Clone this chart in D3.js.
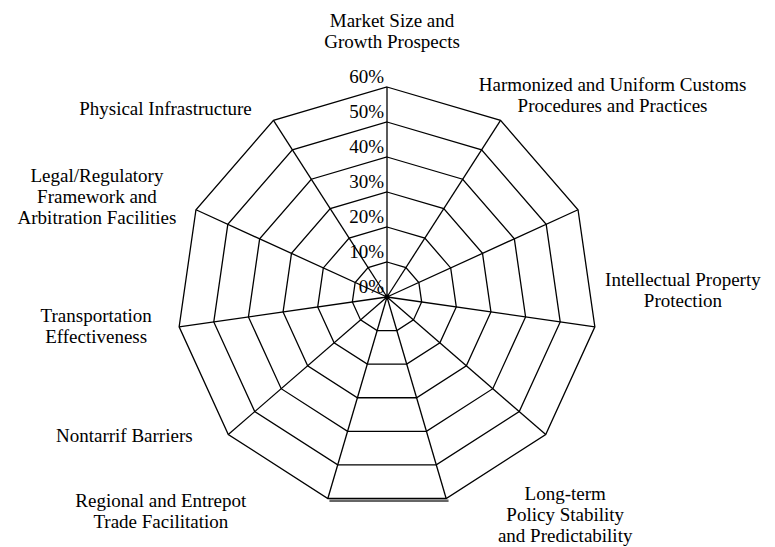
<!DOCTYPE html>
<html>
<head>
<meta charset="utf-8">
<script src="https://cdn.jsdelivr.net/npm/d3@7"></script>
<style>
  body { margin: 0; background: #fff; }
  text { font-family: "Liberation Serif", "DejaVu Serif", serif; fill: #000; }
</style>
</head>
<body>
<div id="chart"></div>
<script>
// axis labels, one entry per spoke (two spokes carry no label in the original)
var categories = [
	["Market Size and", "Growth Prospects"],
	["Harmonized and Uniform Customs", "Procedures and Practices"],
	[],
	["Intellectual Property", "Protection"],
	[],
	["Long-term", "Policy Stability", "and Predictability"],
	["Regional and Entrepot", "Trade Facilitation"],
	["Nontarrif Barriers"],
	["Transportation", "Effectiveness"],
	["Legal/Regulatory", "Framework and", "Arbitration Facilities"],
	["Physical Infrastructure"]
];
var tickValues = [0, 10, 20, 30, 40, 50, 60];
var tickLabels = ["0%", "10%", "20%", "30%", "40%", "50%", "60%"];
// only segment of the series that shows up (grey line under the bottom edge)
var seriesValues = [null, null, null, null, null, 60.4, 60.4, null, null, null, null];

// label placement, offset from the outer vertex of each spoke
var labelNudge = [[5,-60],[112,-29],[0,0],[88,-41],[0,0],[119,2],[-167,9],[-104,7],[-83,-5],[-99,-28],[-108,-5]];

var g = {
	width: 775,
	height: 547,
	cx: 387,
	cy: 297,
	radius: 210,
	lineH: 21
};

var svg = d3.select("#chart").append("svg")
	.attr("width", g.width)
	.attr("height", g.height);

var chart = svg.append("g")
	.attr("transform", "translate(" + g.cx + "," + g.cy + ")");

var n = categories.length;
var r = d3.scaleLinear().domain([0, 60]).range([0, g.radius]);
var angle = d3.scaleLinear().domain([0, n]).range([0, 2 * Math.PI]);

function px(i, v) { return r(v) * Math.sin(angle(i)); }
function py(i, v) { return -r(v) * Math.cos(angle(i)); }

var ring = d3.lineRadial()
	.angle(function(d, i) { return angle(i); })
	.radius(function(d) { return r(d); })
	.curve(d3.curveLinearClosed);

// rings
chart.selectAll(".ring").data(tickValues.slice(1))
	.enter().append("path")
	.attr("class", "ring")
	.attr("d", function(v) { return ring(d3.range(n).map(function() { return v; })); })
	.attr("fill", "none")
	.attr("stroke", "#000")
	.attr("stroke-width", 1.3);

// spokes
chart.selectAll(".spoke").data(d3.range(n))
	.enter().append("line")
	.attr("class", "spoke")
	.attr("x1", 0).attr("y1", 0)
	.attr("x2", function(i) { return px(i, 60); })
	.attr("y2", function(i) { return py(i, 60); })
	.attr("stroke", "#000")
	.attr("stroke-width", 1.3);

chart.append("circle").attr("r", 2.5).attr("fill", "#000");

// series
var seriesLine = d3.lineRadial()
	.defined(function(d) { return d != null; })
	.angle(function(d, i) { return angle(i); })
	.radius(function(d) { return r(d); });

chart.append("path")
	.attr("d", seriesLine(seriesValues))
	.attr("transform", "translate(2,1)")
	.attr("fill", "none")
	.attr("stroke", "#666")
	.attr("stroke-width", 2.5);

// tick labels
chart.selectAll(".tick").data(tickValues)
	.enter().append("text")
	.attr("class", "tick")
	.attr("x", -3)
	.attr("y", function(v) { return -r(v) - 4; })
	.attr("text-anchor", "end")
	.style("font-size", "19px")
	.text(function(v, i) { return tickLabels[i]; });

// category labels
var labels = chart.selectAll(".lab").data(categories)
	.enter().append("text")
	.attr("class", "lab")
	.attr("text-anchor", "middle")
	.style("font-size", "19px")
	.attr("transform", function(d, i) {
		return "translate(" + (px(i, 60) + labelNudge[i][0]) + "," + (py(i, 60) + labelNudge[i][1]) + ")";
	});

labels.selectAll("tspan").data(function(d) { return d; })
	.enter().append("tspan")
	.attr("x", 0)
	.attr("y", function(d, j) { return j * g.lineH; })
	.text(function(d) { return d; });
</script>
</body>
</html>
